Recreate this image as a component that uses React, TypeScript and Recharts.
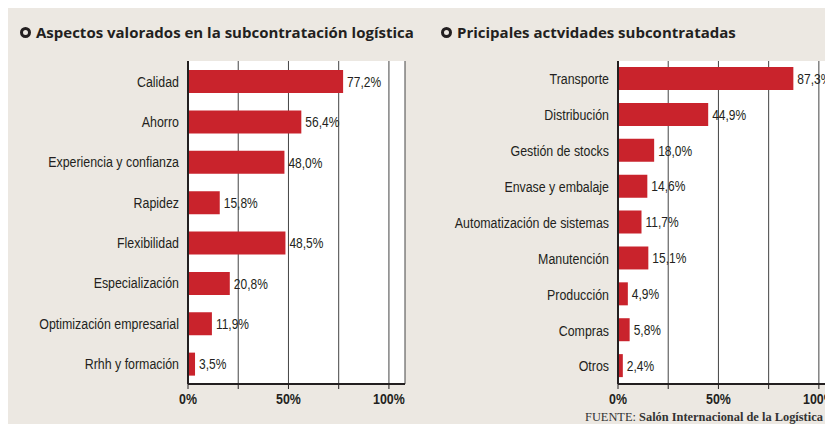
import React from 'react';
import { BarChart, Bar, XAxis, YAxis, CartesianGrid, LabelList } from 'recharts';

const aspectCategories = [
  'Calidad',
  'Ahorro',
  'Experiencia y confianza',
  'Rapidez',
  'Flexibilidad',
  'Especialización',
  'Optimización empresarial',
  'Rrhh y formación',
];
const aspectValues = [77.2, 56.4, 48.0, 15.8, 48.5, 20.8, 11.9, 3.5];

const activityCategories = [
  'Transporte',
  'Distribución',
  'Gestión de stocks',
  'Envase y embalaje',
  'Automatización de sistemas',
  'Manutención',
  'Producción',
  'Compras',
  'Otros',
];
const activityValues = [87.3, 44.9, 18.0, 14.6, 11.7, 15.1, 4.9, 5.8, 2.4];

const axisTicks = [0, 25, 50, 75, 100];
const shownTicks = [0, 50, 100];

const leftTitle = 'Aspectos valorados en la subcontratación logística';
const rightTitle = 'Pricipales actvidades subcontratadas';

const RED = '#c9232c';
const BG = '#ece8e2';
const INK = '#231f20';
const NARROW = "'Liberation Sans', Arial, sans-serif";
const TITLE_FONT = "'Open Sans', 'Noto Sans', sans-serif";
const SQUEEZE = 0.8;

const fmt = (v: number) => v.toFixed(1).replace('.', ',') + '%';

// a regular sans squeezed horizontally, standing in for the condensed face
const NarrowText = ({ x, y, anchor, bold, size, children }: any) => (
  <g transform={`translate(${x},${y}) scale(${SQUEEZE},1)`}>
    <text
      x={0}
      y={0}
      dy="0.35em"
      textAnchor={anchor}
      fill={INK}
      fontSize={size}
      fontWeight={bold ? 700 : 400}
      fontFamily={NARROW}
    >
      {children}
    </text>
  </g>
);

const CategoryTick = (props: any) => (
  <NarrowText x={props.x - 7} y={props.y} anchor="end" size={15.5}>
    {props.payload.value}
  </NarrowText>
);

const PercentTick = (props: any) => {
  const v = props.payload.value;
  if (!shownTicks.includes(v)) return null;
  return (
    <NarrowText x={props.x} y={props.y + 10} anchor="middle" size={15.5} bold>
      {`${v}%`}
    </NarrowText>
  );
};

const ValueLabel = (props: any) => {
  const { x, y, width, height, value } = props;
  return (
    <NarrowText x={x + width + 4} y={y + height / 2} anchor="start" size={15}>
      {fmt(value)}
    </NarrowText>
  );
};

type PanelProps = {
  categories: string[];
  values: number[];
  width: number;
  axisWidth: number;
  rightMargin: number;
  max: number;
};

const Panel = ({ categories, values, width, axisWidth, rightMargin, max }: PanelProps) => {
  const data = categories.map((name, i) => ({ name, value: values[i] }));
  return (
    <BarChart
      width={width}
      height={432}
      data={data}
      layout="vertical"
      margin={{ top: 61, right: rightMargin, bottom: 18, left: 0 }}
      barSize={23}
    >
      <CartesianGrid horizontal={false} vertical={true} stroke="#444" strokeWidth={1} fill="#ffffff" fillOpacity={1} />
      <XAxis
        type="number"
        domain={[0, max]}
        ticks={axisTicks}
        height={30}
        tickSize={5}
        tickMargin={0}
        axisLine={{ stroke: INK, strokeWidth: 2 }}
        tickLine={{ stroke: INK, strokeWidth: 1 }}
        tick={<PercentTick />}
        interval={0}
        allowDataOverflow
      />
      <YAxis
        type="category"
        dataKey="name"
        width={axisWidth}
        tickLine={false}
        tickSize={0}
        axisLine={{ stroke: INK, strokeWidth: 2 }}
        tick={<CategoryTick />}
        interval={0}
      />
      <Bar dataKey="value" fill={RED} isAnimationActive={false}>
        <LabelList dataKey="value" content={<ValueLabel />} />
      </Bar>
    </BarChart>
  );
};

const Title = ({ text, left }: { text: string; left: number }) => (
  <div
    style={{
      position: 'absolute',
      left,
      top: 22,
      display: 'flex',
      alignItems: 'center',
      fontFamily: TITLE_FONT,
      fontWeight: 700,
      fontSize: 15,
      color: INK,
      whiteSpace: 'nowrap',
    }}
  >
    <span
      style={{
        display: 'inline-block',
        width: 5,
        height: 5,
        borderRadius: '50%',
        border: `3px solid ${INK}`,
        marginRight: 5,
      }}
    />
    {text}
  </div>
);

export default function App() {
  return (
    <div style={{ position: 'relative', width: 833, height: 432, margin: -8, background: '#fff', overflow: 'hidden' }}>
      <div style={{ position: 'absolute', left: 8, top: 4, right: 0, bottom: 0, background: BG }} />
      <Title text={leftTitle} left={20} />
      <Title text={rightTitle} left={441} />
      <div style={{ position: 'absolute', left: 0, top: 0 }}>
        <Panel categories={aspectCategories} values={aspectValues} width={420} axisWidth={188} rightMargin={15} max={108} />
      </div>
      <div style={{ position: 'absolute', left: 420, top: 0 }}>
        <Panel categories={activityCategories} values={activityValues} width={430} axisWidth={198} rightMargin={0} max={115.5} />
      </div>
      <div
        style={{
          position: 'absolute',
          left: 585,
          top: 410,
          fontFamily: "'Liberation Serif', 'DejaVu Serif', serif",
          fontSize: 12.4,
          color: '#333',
          whiteSpace: 'nowrap',
        }}
      >
        FUENTE: <b>Salón Internacional de la Logística</b>
      </div>
    </div>
  );
}
